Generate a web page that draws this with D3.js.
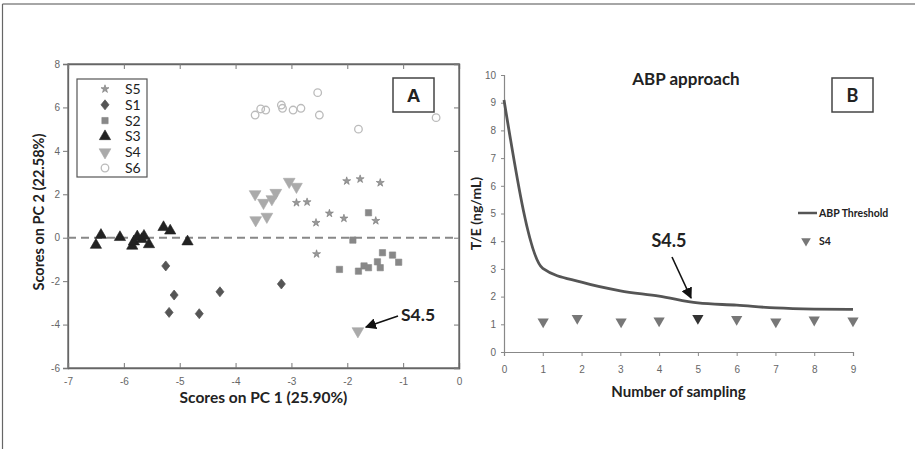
<!DOCTYPE html>
<html><head><meta charset="utf-8">
<script src="https://cdn.jsdelivr.net/npm/d3@7"></script>
<style>
html,body{margin:0;padding:0;background:#fff;}
svg{display:block;}
text{font-family:"Liberation Sans",Arial,sans-serif;}
.lbl{font-family:Lato,"Open Sans",sans-serif;font-weight:bold;fill:#222;}
</style></head>
<body>
<script>
// ---------- Panel A data (PCA scores) ----------
const groupsA = ["S5","S1","S2","S3","S4","S6"];
const s5x = [-2.01,-1.77,-1.41,-2.91,-2.72,-2.32,-2.06,-2.56,-1.49,-2.55];
const s5y = [2.61,2.70,2.53,1.61,1.64,1.12,0.89,0.69,0.78,-0.75];
const s1x = [-5.25,-5.10,-5.19,-4.65,-4.28,-3.18];
const s1y = [-1.30,-2.64,-3.44,-3.50,-2.49,-2.13];
const s2x = [-1.62,-1.90,-2.14,-1.80,-1.70,-1.62,-1.46,-1.41,-1.37,-1.19,-1.08];
const s2y = [1.15,-0.11,-1.46,-1.54,-1.30,-1.38,-1.11,-1.38,-0.69,-0.80,-1.13];
const s3x = [-6.50,-6.41,-6.07,-5.85,-5.82,-5.76,-5.68,-5.64,-5.55,-5.29,-5.17,-4.86];
const s3y = [-0.34,0.12,0.02,-0.38,-0.18,0.05,-0.07,0.08,-0.31,0.48,0.32,-0.18];
const s4x = [-3.65,-3.50,-3.35,-3.28,-3.04,-2.91,-3.64,-3.44,-1.81];
const s4y = [2.01,1.61,1.78,2.07,2.58,2.35,0.81,0.97,-4.30];
const s6x = [-3.65,-3.55,-3.46,-3.18,-3.16,-2.97,-2.83,-2.53,-2.50,-1.80,-0.41];
const s6y = [5.65,5.93,5.88,6.11,5.96,5.88,5.96,6.68,5.65,5.00,5.53];
const xTicksA = [-7,-6,-5,-4,-3,-2,-1,0];
const yTicksA = [-6,-4,-2,0,2,4,6,8];

// ---------- Panel B data (ABP approach) ----------
const thrX = [0,1,2,3,4,5,6,7,8,9];
const thrY = [9.1,3.02,2.52,2.21,2.02,1.77,1.69,1.59,1.55,1.54];
const s4bX = [1.01,1.89,3.02,4.0,5.0,6.0,7.01,8.0,9.0];
const s4bY = [1.09,1.22,1.09,1.13,1.22,1.18,1.09,1.16,1.13];
const xTicksB = [0,1,2,3,4,5,6,7,8,9];
const yTicksB = [0,1,2,3,4,5,6,7,8,9,10];

const W = 915, H = 449;
const svg = d3.select("body").append("svg").attr("width", W).attr("height", H);
const fmt = d => String(d);

// outer figure frame (top & left edges visible)
svg.append("line").attr("x1",2.5).attr("x2",W).attr("y1",4).attr("y2",4).attr("stroke","#888").attr("stroke-width",1.5);
svg.append("line").attr("x1",2.5).attr("x2",2.5).attr("y1",4).attr("y2",H).attr("stroke","#666").attr("stroke-width",1.2);

// ================= Panel A =================
const xA = d3.scaleLinear().domain([-7,0]).range([68,459]);
const yA = d3.scaleLinear().domain([-6,8]).range([368,64]);
const gA = svg.append("g");

gA.append("rect").attr("x",xA(-7)).attr("y",yA(8)).attr("width",xA(0)-xA(-7)).attr("height",yA(-6)-yA(8))
  .attr("fill","none").attr("stroke","#666").attr("stroke-width",1.3);

const axL = gA.append("g").attr("transform",`translate(${xA(-7)},0)`)
  .call(d3.axisLeft(yA).tickValues(yTicksA).tickSize(5).tickPadding(3).tickFormat(fmt));
const axB = gA.append("g").attr("transform",`translate(0,${yA(-6)})`)
  .call(d3.axisBottom(xA).tickValues(xTicksA).tickSize(-5).tickPadding(10).tickFormat(fmt));
const axT = gA.append("g").attr("transform",`translate(0,${yA(8)})`)
  .call(d3.axisTop(xA).tickValues(xTicksA).tickSize(-5).tickFormat(""));
const axR = gA.append("g").attr("transform",`translate(${xA(0)},0)`)
  .call(d3.axisRight(yA).tickValues(yTicksA).tickSize(-5).tickFormat(""));
[axL,axB,axT,axR].forEach(a=>{
  a.select(".domain").attr("stroke","#666").attr("stroke-width",1.3);
  a.selectAll(".tick line").attr("stroke","#777");
  a.selectAll(".tick text").attr("fill","#666").style("font-size","10px");
});

gA.append("line").attr("x1",xA(-7)).attr("x2",xA(0)).attr("y1",yA(0)).attr("y2",yA(0))
  .attr("stroke","#888").attr("stroke-width",2).attr("stroke-dasharray","8,5");

const sym = {
  S5:{type:d3.symbolStar,size:20,fill:"#999",stroke:"#777",rot:0,sx:1,sy:1},
  S1:{type:d3.symbolSquare,size:32,fill:"#555",stroke:"#555",rot:45,sx:1,sy:1.25},
  S2:{type:d3.symbolSquare,size:40,fill:"#888",stroke:"#888",rot:0,sx:1,sy:1},
  S3:{type:d3.symbolTriangle,size:55,fill:"#222",stroke:"#222",rot:0,sx:1,sy:1},
  S4:{type:d3.symbolTriangle,size:60,fill:"#aaa",stroke:"#aaa",rot:180,sx:1,sy:1},
  S6:{type:d3.symbolCircle,size:45,fill:"none",stroke:"#bbb",rot:0,sx:1,sy:1}
};
const seriesA = {S5:[s5x,s5y],S1:[s1x,s1y],S2:[s2x,s2y],S3:[s3x,s3y],S4:[s4x,s4y],S6:[s6x,s6y]};
function drawSym(g, key, cx, cy){
  const s = sym[key];
  g.append("path").attr("d",d3.symbol().type(s.type).size(s.size)())
   .attr("transform",`translate(${cx},${cy}) scale(${s.sx},${s.sy}) rotate(${s.rot})`)
   .attr("fill",s.fill).attr("stroke",s.stroke).attr("stroke-width",key==="S6"?1.3:0.6);
}
["S6","S5","S4","S2","S1","S3"].forEach(k=>{
  const [xs,ys] = seriesA[k];
  xs.forEach((v,i)=>drawSym(gA,k,xA(v),yA(ys[i])));
});

gA.append("rect").attr("x",77).attr("y",79).attr("width",70).attr("height",98)
  .attr("fill","#fff").attr("stroke","#555").attr("stroke-width",1.2);
groupsA.forEach((k,i)=>{
  const cy = 89 + i*15.8;
  drawSym(gA,k,105,cy);
  gA.append("text").attr("x",125).attr("y",cy+5).text(k)
    .attr("fill","#222").style("font-size","14px").style("font-family","Lato,'Open Sans',sans-serif");
});

gA.append("rect").attr("x",393).attr("y",78).attr("width",41).attr("height",34)
  .attr("fill","#fff").attr("stroke","#444").attr("stroke-width",1.5);
gA.append("text").attr("x",413.5).attr("y",102).attr("text-anchor","middle").text("A")
  .attr("class","lbl").style("font-size","19px").style("font-family","'Liberation Sans',Arial,sans-serif").attr("fill","#111");

const defs = svg.append("defs");
defs.append("marker").attr("id","arr").attr("viewBox","0 0 10 10").attr("refX",9).attr("refY",5)
  .attr("markerWidth",7).attr("markerHeight",7).attr("orient","auto")
  .append("path").attr("d","M0,0 L10,5 L0,10 Z").attr("fill","#111");
gA.append("line").attr("x1",398).attr("y1",316).attr("x2",xA(-1.81)+8).attr("y2",yA(-4.30)-4)
  .attr("stroke","#111").attr("stroke-width",1.6).attr("marker-end","url(#arr)");
gA.append("text").attr("x",401).attr("y",321).text("S4.5").attr("class","lbl").style("font-size","17.5px");

gA.append("text").attr("x",xA(-3.5)).attr("y",403).attr("text-anchor","middle")
  .text("Scores on PC 1 (25.90%)").attr("class","lbl").style("font-size","15.5px");
gA.append("text").attr("transform",`translate(44,${(yA(8)+yA(-6))/2 - 4}) rotate(-90)`).attr("text-anchor","middle")
  .text("Scores on PC 2 (22.58%)").attr("class","lbl").style("font-size","14.5px");

// ================= Panel B =================
const xB = d3.scaleLinear().domain([0,9]).range([504,853]);
const yB = d3.scaleLinear().domain([0,10]).range([352,75]);
const gB = svg.append("g");

const bL = gB.append("g").attr("transform",`translate(${xB(0)},0)`)
  .call(d3.axisLeft(yB).tickValues(yTicksB).tickSize(3).tickPadding(5).tickFormat(fmt));
const bB = gB.append("g").attr("transform",`translate(0,${yB(0)})`)
  .call(d3.axisBottom(xB).tickValues(xTicksB).tickSize(4).tickPadding(10).tickFormat(fmt));
[bL,bB].forEach(a=>{
  a.select(".domain").attr("stroke","#888").attr("stroke-width",1.2);
  a.selectAll(".tick line").attr("stroke","#888");
  a.selectAll(".tick text").attr("fill","#666").style("font-size","10px");
});

const line = d3.line().x((d,i)=>xB(thrX[i])).y(d=>yB(d)).curve(d3.curveMonotoneX);
gB.append("path").attr("d",line(thrY)).attr("fill","none").attr("stroke","#555").attr("stroke-width",2.8);

s4bX.forEach((v,i)=>{
  gB.append("path").attr("d",d3.symbol().type(d3.symbolTriangle).size(55)())
    .attr("transform",`translate(${xB(v)},${yB(s4bY[i])}) rotate(180)`)
    .attr("fill", i===4 ? "#333" : "#777");
});

gB.append("line").attr("x1",672).attr("y1",257).attr("x2",691).attr("y2",298)
  .attr("stroke","#111").attr("stroke-width",1.6).attr("marker-end","url(#arr)");
gB.append("text").attr("x",669).attr("y",247).attr("text-anchor","middle").text("S4.5")
  .attr("class","lbl").style("font-size","18px");

gB.append("text").attr("x",686).attr("y",85).attr("text-anchor","middle").text("ABP approach")
  .attr("class","lbl").style("font-size","17px");
gB.append("text").attr("x",(xB(0)+xB(9))/2).attr("y",397).attr("text-anchor","middle").text("Number of sampling")
  .attr("class","lbl").style("font-size","15px");
gB.append("text").attr("transform",`translate(481,${(yB(0)+yB(10))/2}) rotate(-90)`).attr("text-anchor","middle")
  .text("T/E (ng/mL)").attr("class","lbl").style("font-size","14px");

gB.append("rect").attr("x",832).attr("y",78).attr("width",41).attr("height",34)
  .attr("fill","#fff").attr("stroke","#444").attr("stroke-width",1.5);
gB.append("text").attr("x",852.5).attr("y",102).attr("text-anchor","middle").text("B")
  .attr("class","lbl").style("font-size","18px");

gB.append("line").attr("x1",798).attr("x2",817).attr("y1",213).attr("y2",213).attr("stroke","#555").attr("stroke-width",2.5);
gB.append("text").attr("x",819).attr("y",217).text("ABP Threshold").attr("class","lbl").style("font-size","10.5px");
gB.append("path").attr("d",d3.symbol().type(d3.symbolTriangle).size(40)())
  .attr("transform","translate(806,241) rotate(180)").attr("fill","#777");
gB.append("text").attr("x",819).attr("y",245).text("S4").attr("class","lbl").style("font-size","10.5px");
</script>
</body></html>
